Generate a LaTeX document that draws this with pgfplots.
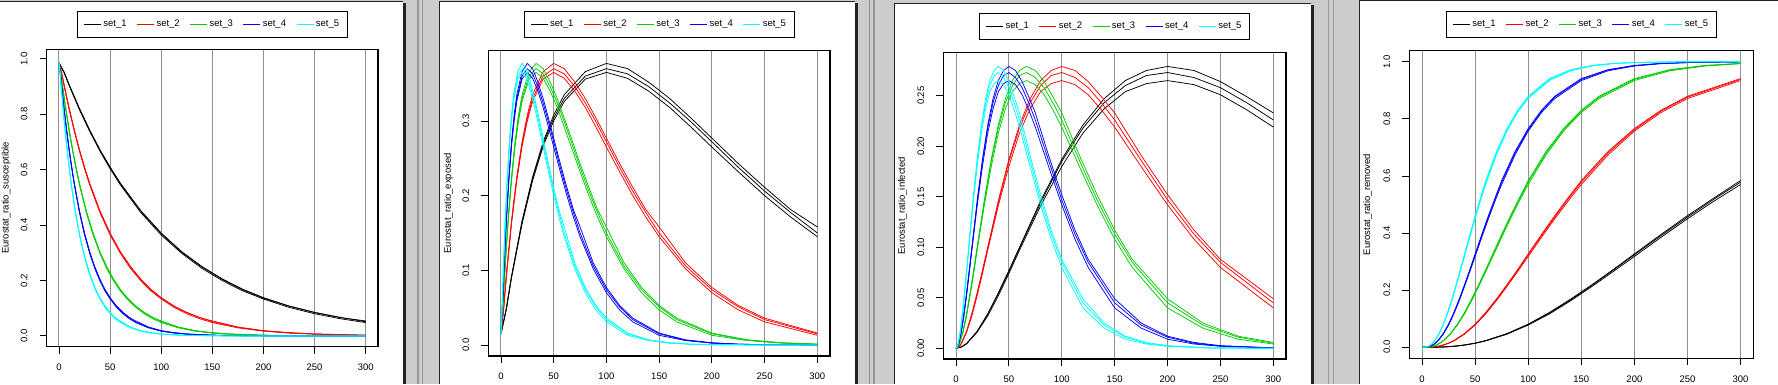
\documentclass[border=0pt]{standalone}
\usepackage{fontspec}
\setmainfont{Liberation Sans}
\usepackage{pgfplots}
\usepackage{pgfplotstable}
\pgfplotsset{compat=1.18}

\definecolor{rgreen}{RGB}{0,205,0}
\definecolor{rcyan}{RGB}{0,255,255}
\definecolor{bggray}{RGB}{204,204,204}
\definecolor{sepgray}{RGB}{150,150,150}
\definecolor{gridgray}{RGB}{145,145,145}
\definecolor{framedark}{RGB}{34,34,34}

% u = scaled time; x1..x5 = time for set_1..set_5; a,b,c = three runs
\pgfplotstableread{
u x1 x2 x3 x4 x5 Sa Sb Sc Ea Eb Ec Ia Ib Ic Ra Rb Rc
0 0 0 0 0 0 0.985 0.985 0.985 0.015 0.015 0.015 0 0 0 0 0 0
0.05 5 2.5 1.667 1.25 1 0.951 0.950 0.952 0.048 0.047 0.048 0.0012 0.0012 0.0013 0 0 0
0.1 10 5 3.333 2.5 2 0.905 0.903 0.906 0.091 0.090 0.092 0.0046 0.0044 0.0047 0.0002 0.0002 0.0002
0.2 20 10 6.667 5 4 0.819 0.816 0.821 0.166 0.162 0.165 0.0168 0.0160 0.0166 0.0012 0.0011 0.0013
0.3 30 15 10 7.5 6 0.742 0.738 0.743 0.225 0.220 0.223 0.034 0.032 0.034 0.0037 0.0035 0.0036
0.4 40 20 13.333 10 8 0.671 0.667 0.672 0.272 0.266 0.269 0.055 0.052 0.054 0.0081 0.0077 0.0079
0.5 50 25 16.667 12.5 10 0.608 0.603 0.609 0.308 0.300 0.304 0.077 0.074 0.076 0.0147 0.0140 0.0145
0.6 60 30 20 15 12 0.550 0.545 0.551 0.335 0.326 0.330 0.100 0.097 0.099 0.0235 0.0226 0.0232
0.8 80 40 26.667 20 16 0.450 0.445 0.452 0.366 0.356 0.360 0.146 0.141 0.144 0.048 0.046 0.047
1.0 100 50 33.333 25 20 0.369 0.364 0.371 0.377 0.365 0.370 0.187 0.180 0.185 0.081 0.078 0.080
1.2 120 60 40 30 24 0.302 0.298 0.304 0.370 0.357 0.363 0.221 0.213 0.218 0.122 0.117 0.120
1.4 140 70 46.667 35 28 0.248 0.243 0.250 0.352 0.340 0.346 0.247 0.237 0.243 0.169 0.163 0.166
1.6 160 80 53.333 40 32 0.203 0.199 0.205 0.330 0.318 0.324 0.265 0.254 0.260 0.219 0.213 0.217
1.8 180 90 60 45 36 0.166 0.162 0.168 0.304 0.292 0.299 0.275 0.262 0.270 0.272 0.265 0.270
2.0 200 100 66.667 50 40 0.136 0.133 0.138 0.277 0.265 0.272 0.279 0.265 0.273 0.327 0.318 0.324
2.25 225 112.5 75 56.25 45 0.107 0.103 0.108 0.243 0.232 0.238 0.275 0.261 0.268 0.395 0.385 0.391
2.5 250 125 83.333 62.5 50 0.084 0.080 0.085 0.211 0.200 0.206 0.264 0.251 0.258 0.461 0.450 0.456
2.75 275 137.5 91.667 68.75 55 0.066 0.062 0.067 0.181 0.171 0.177 0.249 0.236 0.243 0.523 0.512 0.519
3.0 300 150 100 75 60 0.054 0.048 0.051 0.158 0.145 0.150 0.233 0.219 0.226 0.584 0.570 0.578
3.5 350 175 116.667 87.5 70 0.032 0.029 0.031 0.110 0.102 0.106 0.191 0.180 0.186 0.685 0.673 0.680
4 400 200 133.333 100 80 0.019 0.017 0.018 0.077 0.070 0.074 0.152 0.142 0.147 0.766 0.757 0.762
4.5 450 225 150 112.5 90 0.012 0.010 0.011 0.053 0.047 0.051 0.117 0.108 0.113 0.830 0.822 0.827
5 500 250 166.667 125 100 0.007 0.006 0.007 0.036 0.031 0.034 0.088 0.080 0.085 0.879 0.871 0.876
6 600 300 200 150 120 0.003 0.002 0.002 0.016 0.013 0.015 0.049 0.040 0.045 0.941 0.934 0.938
7 700 350 233.333 175 140 0.001 0.001 0.001 0.007 0.006 0.0065 0.025 0.020 0.023 0.972 0.968 0.971
8 800 400 266.667 200 160 0 0 0 0.003 0.0025 0.0028 0.012 0.009 0.011 0.987 0.985 0.986
9 900 450 300 225 180 0 0 0 0.0012 0.0010 0.0011 0.0058 0.0042 0.0050 0.994 0.993 0.994
10 1000 500 333.333 250 200 0 0 0 0.0005 0.0004 0.0005 0.0026 0.0020 0.0023 0.997 0.997 0.997
12 1200 600 400 300 240 0 0 0 0.0001 0.0001 0.0001 0.0004 0.0003 0.0004 0.9995 0.9995 0.9995
15 1500 750 500 375 300 0 0 0 0 0 0 0 0 0 1 1 1
}\simdata

\newcommand\fs{\fontsize{9.5}{11}\selectfont}

\pgfplotsset{
  rpanel/.style={
    scale only axis,
    anchor=south west,
    xmin=-12, xmax=312,
    xtick={0,50,100,150,200,250,300},
    xticklabels={0,50,100,150,200,250,300},
    tick pos=left,
    tick align=outside,
    major tick length=7pt,
    tick style={black, line width=0.8pt},
    axis line style={black, line width=1.1pt},
    xmajorgrids=true,
    ymajorgrids=false,
    major grid style={gridgray, line width=1pt},
    ticklabel style={font=\fs, inner sep=0pt},
    yticklabel style={rotate=90, anchor=south},
    xticklabel style={anchor=north},
    xticklabel shift=10pt,
    yticklabel shift=12pt,
    label style={font=\fs},
    restrict x to domain=0:300,
    every axis plot/.append style={mark=none, line width=0.75pt, line join=round},
    legend columns=5,
    legend image code/.code={\draw[#1, line width=0.9pt] (0pt,0pt) -- (17pt,0pt);},
    legend style={anchor=north, draw=black, line width=0.8pt, font=\fs,
      inner xsep=6pt, inner ysep=6pt,
      nodes={inner xsep=2pt, inner ysep=3pt},
      /tikz/every even column/.append style={column sep=8pt}},
  }
}

\newcommand\curves[1]{%
  \addplot[black] table[x=x1,y=#1a]{\simdata}; \addlegendentry{set\_1}
  \addplot[black,forget plot] table[x=x1,y=#1b]{\simdata};
  \addplot[black,forget plot] table[x=x1,y=#1c]{\simdata};
  \addplot[red] table[x=x2,y=#1b]{\simdata}; \addlegendentry{set\_2}
  \addplot[red,forget plot] table[x=x2,y=#1c]{\simdata};
  \addplot[red,forget plot] table[x=x2,y=#1a]{\simdata};
  \addplot[rgreen] table[x=x3,y=#1c]{\simdata}; \addlegendentry{set\_3}
  \addplot[rgreen,forget plot] table[x=x3,y=#1a]{\simdata};
  \addplot[rgreen,forget plot] table[x=x3,y=#1b]{\simdata};
  \addplot[blue] table[x=x4,y=#1a]{\simdata}; \addlegendentry{set\_4}
  \addplot[blue,forget plot] table[x=x4,y=#1b]{\simdata};
  \addplot[blue,forget plot] table[x=x4,y=#1c]{\simdata};
  \addplot[rcyan] table[x=x5,y=#1b]{\simdata}; \addlegendentry{set\_5}
  \addplot[rcyan,forget plot] table[x=x5,y=#1a]{\simdata};
  \addplot[rcyan,forget plot] table[x=x5,y=#1c]{\simdata};
}

\begin{document}
\begin{tikzpicture}[x=1pt,y=1pt]
\path[use as bounding box] (0,0) rectangle (1778,384);
\fill[bggray] (0,0) rectangle (1778,384);
\foreach \xx in {417.9,422.4,869.7,874.0,1328.7,1333.7}{\fill[sepgray] (\xx-0.65,0) rectangle (\xx+0.65,384);}
% panel frames
\fill[framedark] (403.3,0) rectangle (406,381.3);
\fill[white] (0,0) rectangle (403.3,382.7);
\draw[framedark, line width=1pt] (0,382.7) -- (403.3,382.7);
\fill[framedark] (855.3,0) rectangle (857.5,381.3);
\fill[white] (439,0) rectangle (855.3,382.7);
\draw[framedark, line width=1pt] (439.5,0) -- (439.5,382.7) -- (855.3,382.7);
\fill[framedark] (1311,0) rectangle (1314,379.3);
\fill[white] (894,0) rectangle (1311,380.7);
\draw[framedark, line width=1pt] (894.5,0) -- (894.5,380.7) -- (1311,380.7);
\fill[white] (1359,0) rectangle (1778,383);
\draw[framedark, line width=1pt] (1359.5,0) -- (1359.5,383) -- (1778,383);

\begin{axis}[rpanel, at={(46.7pt,37.3pt)}, width=331.3pt, height=297.4pt,
  ymin=-0.039, ymax=1.034, ytick={0,0.2,0.4,0.6,0.8,1}, yticklabels={0.0,0.2,0.4,0.6,0.8,1.0},
  ylabel={Eurostat\_ratio\_susceptible}, ylabel style={at={(axis description cs:-0.122,0.5)}, anchor=center},
  legend style={at={(axis description cs:0.5,1.1298)}}]
\curves{S}
\end{axis}

\begin{axis}[rpanel, at={(488.3pt,28pt)}, width=341.7pt, height=305.3pt,
  ymin=-0.0147, ymax=0.394, ytick={0,0.1,0.2,0.3}, yticklabels={0.0,0.1,0.2,0.3},
  ylabel={Eurostat\_ratio\_exposed}, ylabel style={at={(axis description cs:-0.117,0.5)}, anchor=center},
  legend style={at={(axis description cs:0.5,1.131)}}]
\curves{E}
\end{axis}

\begin{axis}[rpanel, at={(943.3pt,25pt)}, width=342.7pt, height=306.7pt,
  ymin=-0.0106, ymax=0.293, ytick={0,0.05,0.1,0.15,0.2,0.25}, yticklabels={0.00,0.05,0.10,0.15,0.20,0.25},
  ylabel={Eurostat\_ratio\_infected}, ylabel style={at={(axis description cs:-0.1196,0.5)}, anchor=center},
  legend style={at={(axis description cs:0.5,1.129)}}]
\curves{I}
\end{axis}

\begin{axis}[rpanel, at={(1409.3pt,25.7pt)}, width=344pt, height=307.6pt,
  ymin=-0.0385, ymax=1.0385, ytick={0,0.2,0.4,0.6,0.8,1}, yticklabels={0.0,0.2,0.4,0.6,0.8,1.0},
  ylabel={Eurostat\_ratio\_removed}, ylabel style={at={(axis description cs:-0.121,0.5)}, anchor=center},
  legend style={at={(axis description cs:0.5,1.130)}}]
\curves{R}
\end{axis}
\end{tikzpicture}
\end{document}
